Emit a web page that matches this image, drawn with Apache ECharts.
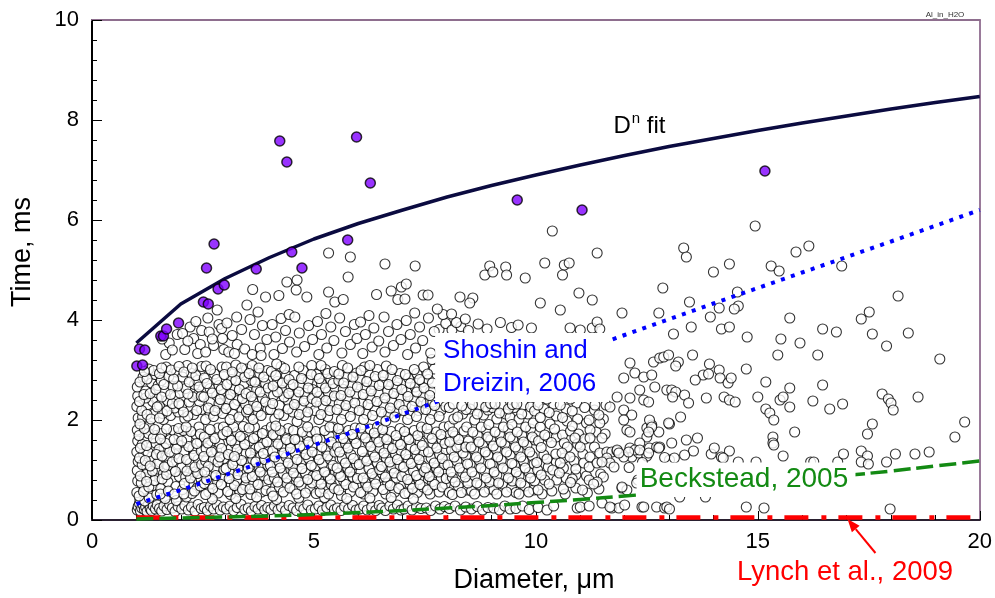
<!DOCTYPE html>
<html>
<head>
<meta charset="utf-8">
<script src="https://cdn.jsdelivr.net/npm/echarts/dist/echarts.min.js"></script>
<style>html,body{margin:0;padding:0;background:#fff}#c{width:995px;height:598px}</style>
</head>
<body>
<div id="c"></div>
<script>
// ---------- DATA ----------
const xTicks = [0, 5, 10, 15, 20];
const yTicks = [0, 2, 4, 6, 8, 10];

// D^n fit curve
const fitX = [1, 2, 3, 4, 5, 6, 7, 8, 9, 10, 11, 12, 13, 14, 15, 16, 17, 18, 19, 20];
const fitY = [3.54, 4.32, 4.83, 5.25, 5.62, 5.93, 6.2, 6.46, 6.69, 6.9, 7.1, 7.29, 7.47, 7.63, 7.79, 7.94, 8.08, 8.22, 8.35, 8.47];

// Shoshin and Dreizin, 2006
const shoX = [1, 2, 4, 6, 8, 10, 12, 14, 16, 18, 20];
const shoY = [0.32, 0.6, 1.2, 1.8, 2.44, 3.06, 3.7, 4.33, 4.95, 5.57, 6.2];

// Beckstead, 2005
const beckX = [1, 2, 3, 4, 5, 6, 7, 8, 9, 10, 11, 12, 13, 14, 15, 16, 17, 18, 19, 20];
const beckY = [0.02, 0.04, 0.06, 0.08, 0.11, 0.15, 0.19, 0.24, 0.29, 0.35, 0.41, 0.48, 0.55, 0.63, 0.71, 0.8, 0.89, 0.98, 1.08, 1.18];

// Lynch et al., 2009
const lynX = [1, 20];
const lynY = [0.05, 0.05];

// highlighted (filled) points, flat x,y
const filledPts = [1.07,3.42, 1.19,3.4, 1.01,3.08, 1.14,3.1, 1.55,3.68, 1.61,3.68, 1.68,3.82, 1.95,3.94, 2.51,4.36, 2.62,4.32,
  2.84,4.62, 2.98,4.7, 2.58,5.04, 3.7,5.02, 4.73,5.04, 4.5,5.36, 2.75,5.52, 4.23,7.58, 4.39,7.16, 5.96,7.66, 6.27,6.74,
  5.76,5.6, 9.58,6.4, 11.04,6.2, 15.16,6.98];

// open points, flat x,y, grouped by diameter range
const openA = [1.02,0.2, 1.04,0.27, 1.07,0.33, 1.09,0.18, 1.12,0.24, 1.15,0.3, 1.18,0.21, 1.21,0.26, 1.24,0.17, 1.27,0.32, 1.31,0.23, 1.34,0.19, 1.38,0.28, 1.43,0.22, 1.47,0.3, 1.08,0.41, 1.19,0.38, 1.29,0.44,
  1.01,0.55, 1.03,0.78, 1.02,0.99, 1.04,1.17, 1.01,1.36, 1.03,1.58, 1.02,1.8, 1.04,2.04, 1.01,2.27, 1.03,2.48, 1.02,2.66,
  1.18,0.62, 1.31,0.83, 1.24,1.04, 1.39,1.21, 1.33,1.46, 1.19,1.62, 1.44,1.69, 1.29,1.88, 1.14,2.06, 1.41,2.13, 1.26,2.31, 1.46,2.44, 1.21,2.58, 1.34,2.74, 1.42,2.91, 1.28,3.02, 1.46,0.51, 1.37,0.69, 1.22,0.91, 1.48,1.02, 1.16,1.33, 1.34,1.26, 1.43,1.54, 1.27,1.73, 1.12,2.19, 1.37,2.37, 1.49,2.69, 1.15,2.86, 1.11,0.74, 1.13,1.11, 1.26,1.36, 1.13,1.51, 1.21,2.44,
  1.52,0.23, 1.57,0.18, 1.62,0.28, 1.69,0.21, 1.75,0.31, 1.81,0.24, 1.87,0.17, 1.94,0.27, 1.65,0.43, 1.9,0.39,
  1.55,0.63, 1.71,0.76, 1.89,0.67, 1.61,0.93, 1.79,1.01, 1.97,0.87, 1.53,1.16, 1.69,1.23, 1.86,1.31, 1.63,1.44, 1.93,1.52, 1.76,1.61, 1.57,1.73, 1.84,1.79, 1.71,1.09, 1.96,1.68, 1.51,1.41,
  1.61,2.01, 1.77,2.09, 1.94,2.16, 1.52,2.29, 1.7,2.39, 1.87,2.46, 1.64,2.57, 1.82,2.67, 1.98,2.54, 1.56,2.79, 1.73,2.87, 1.91,2.96, 1.67,3.06, 1.86,2.24, 1.59,2.13,
  1.74,3.54, 1.92,3.71, 1.66,3.31, 1.81,3.4, 1.58,3.62,
  2.02,0.22, 2.09,0.29, 2.17,0.2, 2.24,0.26, 2.32,0.18, 2.39,0.31, 2.46,0.23, 2.13,0.46,
  2.04,0.61, 2.19,0.73, 2.37,0.64, 2.11,0.86, 2.29,0.96, 2.46,0.81, 2.03,1.06, 2.21,1.13, 2.39,1.21, 2.07,1.36, 2.27,1.43, 2.44,1.56, 2.14,1.63, 2.34,1.71, 2.06,1.79, 2.41,1.86, 2.25,0.53,
  2.09,2.03, 2.29,2.11, 2.47,2.21, 2.02,2.29, 2.19,2.36, 2.39,2.51, 2.11,2.63, 2.31,2.71, 2.04,2.86, 2.24,2.93, 2.44,2.99, 2.14,3.09, 2.37,2.79, 2.42,2.37,
  2.09,3.41, 2.29,3.63, 2.21,3.86, 2.44,3.51, 2.34,3.97, 2.04,3.73, 2.47,3.79, 2.16,3.58, 2.38,3.33, 2.82,4.2, 3.49,4.3];

const openB = [2.53,0.25, 2.6,0.19, 2.67,0.28, 2.74,0.22, 2.82,0.3, 2.89,0.2, 2.96,0.26, 2.71,0.42,
  2.56,0.51, 2.72,0.63, 2.91,0.71, 2.58,0.81, 2.79,0.89, 2.97,1.01, 2.62,1.07, 2.84,1.16, 2.52,1.27, 2.69,1.36, 2.92,1.43, 2.61,1.54, 2.77,1.63, 2.95,1.71, 2.66,1.81, 2.88,1.26, 2.54,0.96,
  2.56,2.01, 2.74,2.07, 2.94,2.13, 2.62,2.24, 2.86,2.33, 2.52,2.46, 2.71,2.54, 2.91,2.61, 2.59,2.73, 2.81,2.81, 2.98,2.91, 2.67,3.01, 2.89,2.41, 2.77,2.19,
  2.56,3.36, 2.74,3.49, 2.94,3.63, 2.64,3.76, 2.86,3.91, 2.61,4.04, 2.97,3.41, 2.71,3.62, 2.92,3.83,
  3.03,0.22, 3.11,0.28, 3.19,0.19, 3.27,0.25, 3.36,0.31, 3.44,0.21, 3.24,0.43,
  3.06,0.57, 3.21,0.69, 3.39,0.61, 3.09,0.83, 3.29,0.91, 3.47,0.84, 3.02,1.03, 3.17,1.11, 3.37,1.19, 3.07,1.31, 3.27,1.41, 3.44,1.51, 3.14,1.59, 3.34,1.67, 3.04,1.77, 3.41,1.87, 3.21,1.27,
  3.11,2.01, 3.31,2.06, 3.48,2.16, 3.02,2.23, 3.21,2.31, 3.39,2.43, 3.12,2.51, 3.32,2.61, 3.04,2.71, 3.24,2.79, 3.44,2.86, 3.16,2.96, 3.37,3.04, 3.47,2.53,
  3.08,3.36, 3.27,3.51, 3.44,3.42, 3.16,3.69, 3.37,3.81, 3.04,3.94, 3.26,4.06, 3.21,3.33,
  3.52,0.24, 3.59,0.18, 3.67,0.27, 3.74,0.22, 3.82,0.29, 3.89,0.2, 3.96,0.25, 3.71,0.46,
  3.56,0.62, 3.74,0.71, 3.92,0.59, 3.61,0.87, 3.79,0.96, 3.98,0.81, 3.52,1.04, 3.69,1.16, 3.89,1.21, 3.57,1.34, 3.77,1.46, 3.94,1.56, 3.64,1.63, 3.84,1.73, 3.54,1.84, 3.86,1.33,
  3.63,2.01, 3.81,2.09, 3.52,2.21, 3.71,2.27, 3.91,2.36, 3.59,2.47, 3.79,2.56, 3.97,2.64, 3.67,2.76, 3.87,2.86, 3.54,2.93, 3.76,3.04,
  3.61,3.31, 3.79,3.44, 3.94,3.61, 3.66,3.71, 3.84,3.89, 3.56,4.01, 3.74,4.16, 3.91,4.46, 3.62,4.61, 3.81,3.29];

const openC = [4.03,0.21, 4.11,0.28, 4.19,0.2, 4.27,0.26, 4.36,0.19, 4.44,0.29, 4.16,0.41,
  4.05,0.56, 4.22,0.66, 4.39,0.73, 4.11,0.84, 4.31,0.93, 4.48,1.01, 4.02,1.09, 4.21,1.17, 4.37,1.26, 4.07,1.38, 4.27,1.47, 4.46,1.54, 4.14,1.66, 4.34,1.74, 4.04,1.86, 4.42,1.83,
  4.12,2.02, 4.32,2.09, 4.02,2.21, 4.22,2.29, 4.42,2.39, 4.09,2.49, 4.29,2.59, 4.48,2.67, 4.18,2.77, 4.38,2.89, 4.04,2.97, 4.26,3.07,
  4.1,3.31, 4.29,3.43, 4.45,3.56, 4.14,3.66, 4.36,3.79, 4.06,3.91, 4.26,4.03, 4.44,4.11, 4.21,4.49, 4.39,4.76,
  4.53,0.24, 4.61,0.19, 4.69,0.28, 4.77,0.22, 4.86,0.3, 4.94,0.2, 4.66,0.44,
  4.56,0.61, 4.72,0.69, 4.91,0.63, 4.6,0.86, 4.81,0.94, 4.98,0.88, 4.52,1.07, 4.71,1.16, 4.88,1.23, 4.58,1.34, 4.77,1.43, 4.96,1.49, 4.64,1.61, 4.84,1.69, 4.54,1.79, 4.92,1.76,
  4.62,1.97, 4.82,2.06, 4.52,2.16, 4.72,2.24, 4.93,2.31, 4.6,2.44, 4.8,2.53, 4.97,2.61, 4.68,2.69, 4.87,2.79, 4.56,2.89, 4.76,2.99, 4.95,3.09,
  4.61,3.36, 4.79,3.47, 4.97,3.61, 4.67,3.74, 4.88,3.89, 4.57,4.06, 4.6,4.6, 4.62,4.8, 4.84,4.46,
  5.03,0.22, 5.11,0.28, 5.19,0.19, 5.29,0.25, 5.38,0.3, 5.46,0.21, 5.24,0.45,
  5.05,0.53, 5.22,0.63, 5.39,0.71, 5.11,0.81, 5.31,0.89, 5.48,0.97, 5.02,1.06, 5.19,1.13, 5.37,1.21, 5.07,1.31, 5.28,1.41, 5.44,1.49, 5.14,1.61, 5.34,1.69, 5.04,1.77, 5.42,1.86,
  5.11,2.01, 5.31,2.07, 5.02,2.19, 5.21,2.27, 5.41,2.36, 5.12,2.47, 5.32,2.56, 5.48,2.64, 5.17,2.73, 5.38,2.81, 5.06,2.91, 5.26,3.01,
  5.11,3.31, 5.29,3.44, 5.45,3.59, 5.17,3.71, 5.38,3.86, 5.08,3.97, 5.27,4.13, 5.33,4.56, 5.33,5.34, 5.47,4.36];

const openD = [5.53,0.24, 5.61,0.19, 5.69,0.27, 5.78,0.22, 5.87,0.29, 5.95,0.2, 5.74,0.43,
  5.56,0.6, 5.72,0.71, 5.89,0.66, 5.6,0.87, 5.81,0.96, 5.98,0.83, 5.52,1.04, 5.71,1.14, 5.89,1.23, 5.58,1.36, 5.77,1.44, 5.95,1.53, 5.66,1.63, 5.86,1.71, 5.55,1.83,
  5.62,2.01, 5.82,2.07, 5.52,2.21, 5.72,2.29, 5.92,2.34, 5.61,2.49, 5.81,2.56, 5.98,2.66, 5.67,2.74, 5.88,2.86, 5.56,2.92, 5.76,3.04,
  5.63,3.34, 5.82,3.51, 5.97,3.63, 5.71,3.77, 5.91,3.91, 5.58,4.04, 5.82,5.26, 5.77,4.86, 5.66,4.41,
  6.03,0.22, 6.12,0.28, 6.2,0.2, 6.3,0.26, 6.39,0.19, 6.47,0.29, 6.26,0.44,
  6.05,0.55, 6.21,0.66, 6.39,0.72, 6.11,0.84, 6.31,0.93, 6.48,1.01, 6.02,1.11, 6.19,1.18, 6.37,1.26, 6.09,1.37, 6.28,1.47, 6.46,1.56, 6.16,1.64, 6.36,1.74, 6.06,1.84,
  6.12,2.01, 6.32,2.09, 6.02,2.19, 6.22,2.31, 6.42,2.37, 6.11,2.51, 6.29,2.58, 6.47,2.69, 6.19,2.77, 6.38,2.87, 6.06,2.99, 6.26,3.09,
  6.1,3.33, 6.31,3.46, 6.46,3.58, 6.16,3.71, 6.35,3.84, 6.05,3.96, 6.24,4.09, 6.41,4.51,
  6.53,0.24, 6.61,0.19, 6.71,0.28, 6.79,0.22, 6.88,0.3, 6.96,0.2, 6.74,0.45,
  6.56,0.61, 6.72,0.69, 6.91,0.63, 6.61,0.86, 6.81,0.94, 6.98,0.87, 6.52,1.07, 6.71,1.16, 6.88,1.21, 6.58,1.34, 6.77,1.43, 6.95,1.51, 6.64,1.61, 6.85,1.69, 6.55,1.81,
  6.62,1.98, 6.82,2.06, 6.52,2.16, 6.72,2.24, 6.92,2.31, 6.6,2.44, 6.8,2.53, 6.98,2.61, 6.68,2.71, 6.88,2.79, 6.56,2.89, 6.76,3.01,
  6.6,3.36, 6.79,3.49, 6.96,3.61, 6.68,3.77, 6.87,3.91, 6.58,4.06, 6.74,4.58, 6.6,5.12, 6.89,4.41];

const openE = [7.03,0.22, 7.12,0.28, 7.21,0.2, 7.31,0.26, 7.41,0.23, 7.24,0.42,
  7.05,0.53, 7.22,0.63, 7.39,0.71, 7.11,0.81, 7.31,0.89, 7.48,0.97, 7.02,1.06, 7.19,1.13, 7.37,1.21, 7.07,1.31, 7.28,1.41, 7.44,1.49, 7.14,1.61, 7.34,1.69, 7.04,1.77, 7.42,1.86,
  7.11,2.01, 7.31,2.07, 7.02,2.19, 7.21,2.27, 7.41,2.36, 7.12,2.47, 7.32,2.56, 7.48,2.64, 7.17,2.73, 7.38,2.81, 7.06,2.91, 7.26,3.01,
  7.11,3.31, 7.29,3.44, 7.45,3.59, 7.17,3.71, 7.38,3.86, 7.08,3.99, 7.27,4.14, 6.97,4.66, 7.08,4.72, 7.46,4.5, 7.28,5.08, 7.05,4.42,
  7.53,0.24, 7.63,0.19, 7.74,0.28, 7.84,0.22, 7.94,0.27,
  7.56,0.6, 7.72,0.71, 7.89,0.66, 7.6,0.87, 7.81,0.96, 7.98,0.83, 7.52,1.04, 7.71,1.14, 7.89,1.23, 7.58,1.36, 7.77,1.44, 7.95,1.53, 7.66,1.63, 7.86,1.71, 7.55,1.83,
  7.62,2.01, 7.82,2.07, 7.52,2.21, 7.72,2.29, 7.61,2.49, 7.67,2.74, 7.56,2.92,
  7.63,3.34, 7.82,3.81, 7.97,3.93, 7.71,3.77, 7.91,4.11, 7.58,4.04, 7.57,4.5, 7.78,4.22,
  8.05,0.23, 8.18,0.28, 8.3,0.2, 8.42,0.26,
  8.05,0.55, 8.25,0.68, 8.45,0.6, 8.12,0.85, 8.35,0.95, 8.02,1.1, 8.22,1.18, 8.42,1.28, 8.1,1.4, 8.3,1.5, 8.48,1.58, 8.18,1.68, 8.38,1.78, 8.05,1.88,
  8.15,2.02, 8.35,2.12, 8.05,2.25,
  8.11,3.8, 8.31,3.87, 8.48,3.79, 8.21,3.95, 8.41,4.02, 8.29,4.46, 8.1,4.12];

const openF = [8.55,0.22, 8.68,0.27, 8.8,0.2, 8.92,0.25,
  8.55,0.58, 8.75,0.7, 8.95,0.62, 8.62,0.88, 8.85,0.98, 8.52,1.12, 8.72,1.2, 8.92,1.3, 8.6,1.42, 8.8,1.52, 8.98,1.6, 8.68,1.7, 8.88,1.8,
  8.62,2.0, 8.82,2.1, 8.52,2.22, 8.72,2.3, 8.92,2.2,
  8.7,3.92, 8.58,4.44, 8.51,4.34, 8.85,4.9, 8.96,5.08, 8.9,3.82,
  9.05,0.24, 9.18,0.2, 9.3,0.28, 9.42,0.22,
  9.05,0.6, 9.25,0.72, 9.45,0.65, 9.12,0.9, 9.35,1.0, 9.02,1.12, 9.22,1.2, 9.42,1.3, 9.1,1.42, 9.3,1.52, 9.48,1.62, 9.18,1.72, 9.38,1.82,
  9.12,2.02, 9.32,2.12, 9.02,2.25, 9.22,2.3, 9.42,2.05,
  9.2,3.95, 9.03,4.96, 9.32,5.06, 9.34,4.9, 9.45,3.85,
  9.55,0.23, 9.7,0.28, 9.85,0.21,
  9.55,0.55, 9.75,0.68, 9.95,0.6, 9.62,0.88, 9.85,0.95, 9.52,1.1, 9.72,1.18, 9.92,1.28, 9.6,1.4, 9.8,1.5, 9.98,1.6, 9.68,1.7, 9.88,1.82,
  9.62,2.02, 9.82,2.12, 9.52,2.25, 9.72,2.3,
  9.9,3.84, 9.76,4.84, 9.6,3.9];

const openG = [10.05,0.25, 10.25,0.2, 10.4,0.28, 10.93,0.24, 11.0,0.26, 11.2,0.28, 11.49,0.34, 11.71,0.24, 11.87,0.24, 12.0,0.3, 12.39,0.26, 12.43,0.26, 12.72,0.26, 12.9,0.24, 11.67,0.26, 12.95,0.26,
  10.05,0.6, 10.3,0.72, 10.12,0.9, 10.38,1.0, 10.02,1.15, 10.25,1.22, 10.45,1.32, 10.12,1.45, 10.35,1.55, 10.2,1.7, 10.42,1.82,
  10.1,2.05, 10.3,2.15, 10.05,2.3, 10.25,2.42, 10.45,2.52,
  10.2,5.14, 10.1,4.34, 10.37,5.78, 10.64,5.1, 10.75,5.14, 10.6,4.9, 10.97,4.54, 10.55,4.2, 10.77,3.84, 11.0,3.8, 11.27,3.84, 11.38,3.96, 11.44,3.82, 11.38,5.34, 11.27,4.4, 11.94,4.14, 12.86,4.64, 12.77,4.14,
  10.82,1.88, 11.22,1.8, 11.44,1.94, 11.22,1.64, 11.49,1.64, 10.64,1.54, 10.71,1.46, 10.88,1.64, 11.0,1.46, 10.59,1.34, 10.77,1.26, 10.55,1.14, 11.08,1.14, 11.22,1.26, 11.44,1.34, 11.6,1.36, 11.71,1.36, 11.83,1.38, 11.6,1.24, 11.67,1.14, 11.76,1.06, 11.2,1.06, 11.38,1.14, 11.49,1.16, 10.53,0.94, 10.82,0.82, 11.2,0.8, 11.38,0.76, 11.94,0.64, 12.12,1.44, 12.16,1.26, 12.32,1.34, 12.5,1.28, 12.56,1.44, 12.72,1.46, 12.05,1.8, 12.5,1.84, 12.61,1.9, 12.77,1.76, 12.5,1.66,
  12.12,3.14, 12.23,2.94, 11.98,2.84, 12.43,2.86, 12.65,3.16, 12.79,3.24, 12.88,3.26, 12.99,3.3, 12.61,2.9, 12.68,2.66, 12.34,2.6, 12.12,2.44, 11.83,2.46, 12.43,2.4, 12.54,2.36, 12.95,2.6, 11.98,2.2, 12.16,2.1, 11.67,2.26, 11.33,2.3, 11.98,2.0, 12.56,2.0, 12.61,1.86, 12.54,1.76, 12.12,1.76, 12.79,1.46, 12.34,1.54, 12.23,1.4, 11.83,1.4, 11.98,1.26,
  10.6,2.05, 10.82,2.18, 10.55,2.3, 10.78,2.42, 11.1,2.25, 11.2,2.0, 11.42,2.1,
  10.62,0.62, 10.78,0.75, 11.05,0.6, 11.3,0.72, 10.9,1.02, 11.87,1.34, 12.09,1.36, 12.34,1.4, 12.54,1.34, 12.77,1.44, 13.01,1.2, 13.12,1.24,
  12.3,0.8, 12.55,0.7, 12.8,0.85, 12.1,1.05, 12.4,1.15, 12.9,1.25, 12.05,0.6, 11.94,0.66, 12.27,0.74, 12.77,0.7];

const openH = [14.94,5.88, 13.33,5.44, 13.39,5.26, 14.0,4.96, 14.36,5.12, 15.3,5.08, 15.48,4.98, 15.86,5.36, 16.15,5.48, 16.89,5.08, 14.54,4.56, 14.56,4.28, 14.47,4.22, 13.46,4.36, 14.13,4.24, 13.93,4.06, 14.18,3.82, 14.36,3.86, 13.5,3.86, 13.1,3.72, 14.76,3.66, 15.72,4.04, 15.52,3.62, 15.95,3.54, 15.45,3.3, 16.35,3.3, 16.46,3.82, 16.77,3.76, 17.33,4.02, 17.51,4.16, 17.58,3.72, 17.9,3.48, 18.16,4.48, 18.39,3.74, 19.1,3.22,
  13.53,3.3, 13.21,3.16, 13.15,3.08, 13.91,3.12, 14.13,3.0, 14.15,2.84, 14.33,2.74, 14.4,2.84, 13.77,2.9, 13.89,2.92, 13.59,2.8, 14.74,3.02, 15.18,2.76, 13.06,2.6, 13.15,2.56, 13.35,2.5, 13.44,2.34, 13.08,2.46, 13.84,2.44, 14.24,2.46, 14.36,2.4, 14.49,2.36, 15.0,2.46, 15.18,2.22, 15.27,2.14, 15.36,2.0, 15.5,2.4, 15.57,2.46, 15.72,2.64, 15.72,2.26, 16.24,2.38, 16.46,2.7, 16.62,2.22, 16.91,2.32, 17.8,2.52, 17.94,2.42, 18.0,2.34, 18.05,2.2, 18.61,2.46,
  17.58,1.92, 17.47,1.72, 15.83,1.76, 15.34,1.66, 15.34,1.54, 15.36,1.5, 15.57,1.28, 14.96,1.16, 14.56,1.16, 16.19,1.16, 16.26,1.16, 16.8,1.16, 16.93,1.32, 17.33,1.38, 17.47,1.28, 17.33,1.16, 17.49,1.12, 17.9,1.16, 18.1,1.32, 18.54,1.32, 18.86,1.36, 19.44,1.66, 19.66,1.96,
  13.26,2.06, 13.01,1.92, 13.06,1.54, 13.39,1.6, 13.64,1.64, 13.55,1.38, 13.35,1.3, 13.95,1.32, 14.02,1.44, 14.18,1.26, 14.36,1.38, 14.22,1.24, 13.24,0.46, 13.82,0.46, 13.01,0.22, 14.74,0.26, 15.14,0.24, 17.98,0.22, 12.99,1.94];

// additional open points filling the dense band (read between the ones above)
const openI = [1.06,0.48, 1.16,0.57, 1.28,0.66, 1.41,0.79, 1.09,0.88, 1.23,0.77, 1.36,0.98, 1.47,1.13, 1.07,1.24, 1.2,1.19, 1.31,1.08, 1.45,1.31, 1.09,1.44, 1.23,1.49, 1.38,1.64, 1.06,1.69, 1.18,1.83, 1.41,1.81, 1.08,1.92, 1.24,2.11, 1.33,2.02, 1.47,2.26, 1.07,2.37, 1.17,2.51, 1.31,2.53, 1.44,2.61, 1.08,2.76, 1.24,2.82, 1.39,2.99, 1.18,2.97,
  1.54,0.52, 1.72,0.58, 1.86,0.52, 1.58,0.82, 1.68,0.91, 1.88,0.97, 1.63,1.06, 1.81,1.16, 1.96,1.23, 1.58,1.28, 1.75,1.36, 1.9,1.42, 1.67,1.53, 1.85,1.61, 1.54,1.62, 1.68,1.82, 1.95,1.83, 1.52,2.04, 1.69,2.18, 1.81,2.33, 1.96,2.33, 1.57,2.46, 1.77,2.51, 1.93,2.68, 1.62,2.71, 1.84,2.82, 1.52,2.93, 1.78,3.0, 1.96,3.07, 1.57,3.04,
  2.07,0.52, 2.31,0.58, 2.44,0.68, 2.08,0.73, 2.22,0.84, 2.38,0.93, 2.14,0.98, 2.32,1.06, 2.47,1.11, 2.13,1.21, 2.3,1.29, 2.46,1.38, 2.18,1.47, 2.36,1.53, 2.02,1.58, 2.23,1.77, 2.44,1.72, 2.12,1.86, 2.16,2.08, 2.36,2.19, 2.06,2.16, 2.27,2.46, 2.46,2.48, 2.16,2.52, 2.41,2.66, 2.19,2.76, 2.07,2.96, 2.34,2.89, 2.47,3.07, 2.26,3.04,
  2.63,0.56, 2.84,0.54, 2.66,0.72, 2.83,0.76, 2.53,0.73, 2.69,0.92, 2.91,0.86, 2.76,1.04, 2.56,1.18, 2.73,1.21, 2.97,1.23, 2.81,1.38, 2.57,1.43, 2.87,1.53, 2.69,1.58, 2.53,1.66, 2.84,1.84, 2.96,1.86, 2.66,2.12, 2.84,2.18, 2.97,2.29, 2.68,2.38, 2.81,2.49, 2.97,2.52, 2.66,2.63, 2.86,2.69, 2.53,2.84, 2.76,2.92, 2.93,3.06, 2.57,3.08,
  3.12,0.51, 3.33,0.56, 3.46,0.69, 3.14,0.71, 3.26,0.79, 3.41,0.96, 3.11,0.96, 3.29,1.04, 3.46,1.16, 3.24,1.19, 3.13,1.43, 3.36,1.31, 3.47,1.34, 3.22,1.53, 3.42,1.63, 3.09,1.68, 3.27,1.76, 3.19,1.86, 3.18,2.11, 3.38,2.2, 3.07,2.41, 3.29,2.39, 3.46,2.31, 3.22,2.62, 3.42,2.71, 3.14,2.81, 3.33,2.93, 3.03,3.06, 3.24,3.1, 3.48,3.02,
  3.58,0.51, 3.82,0.56, 3.92,0.71, 3.64,0.76, 3.71,0.89, 3.87,0.89, 3.56,0.94, 3.77,1.06, 3.96,1.09, 3.62,1.21, 3.8,1.27, 3.96,1.38, 3.69,1.44, 3.86,1.53, 3.55,1.58, 3.72,1.68, 3.92,1.79, 3.66,1.86, 3.57,2.08, 3.74,2.16, 3.96,2.21, 3.64,2.36, 3.84,2.43, 3.53,2.56, 3.71,2.61, 3.91,2.73, 3.59,2.79, 3.78,2.93, 3.95,2.99, 3.61,3.09];

const openJ = [4.08,0.48, 4.31,0.56, 4.46,0.64, 4.18,0.76, 4.39,0.84, 4.06,0.96, 4.24,1.04, 4.42,1.14, 4.12,1.26, 4.32,1.34, 4.47,1.43, 4.19,1.52, 4.38,1.61, 4.08,1.71, 4.24,1.79, 4.14,1.88, 4.21,2.12, 4.42,2.22, 4.07,2.33, 4.33,2.46, 4.18,2.56, 4.43,2.53, 4.08,2.68, 4.29,2.74, 4.44,2.81, 4.14,2.89, 4.34,3.03, 4.16,3.12,
  4.61,0.52, 4.81,0.54, 4.96,0.74, 4.66,0.76, 4.86,0.81, 4.54,0.94, 4.73,1.03, 4.94,1.09, 4.62,1.21, 4.82,1.31, 4.96,1.36, 4.69,1.48, 4.88,1.56, 4.57,1.61, 4.74,1.76, 4.86,1.86, 4.67,2.11, 4.86,2.16, 4.56,2.31, 4.78,2.38, 4.96,2.43, 4.66,2.56, 4.87,2.64, 4.53,2.71, 4.72,2.83, 4.94,2.91, 4.66,3.06,
  5.14,0.56, 5.33,0.52, 5.46,0.63, 5.16,0.72, 5.37,0.82, 5.06,0.89, 5.24,0.96, 5.43,1.09, 5.12,1.21, 5.31,1.28, 5.47,1.36, 5.18,1.46, 5.39,1.56, 5.07,1.62, 5.24,1.79, 5.36,1.86, 5.16,2.11, 5.36,2.19, 5.06,2.36, 5.27,2.39, 5.46,2.48, 5.07,2.56, 5.26,2.64, 5.43,2.73, 5.12,2.83, 5.31,2.93, 5.46,2.97, 5.16,3.09,
  5.62,0.49, 5.82,0.56, 5.96,0.71, 5.67,0.78, 5.88,0.86, 5.56,0.93, 5.76,1.04, 5.96,1.11, 5.64,1.23, 5.83,1.31, 5.53,1.46, 5.71,1.53, 5.91,1.63, 5.61,1.71, 5.78,1.79, 5.93,1.84, 5.68,2.13, 5.88,2.21, 5.57,2.33, 5.76,2.42, 5.94,2.52, 5.66,2.61, 5.86,2.69, 5.56,2.79, 5.74,2.86, 5.96,2.94, 5.64,3.09,
  6.12,0.52, 6.33,0.57, 6.46,0.84, 6.16,0.74, 6.37,0.82, 6.06,0.96, 6.24,1.03, 6.43,1.14, 6.14,1.24, 6.33,1.36, 6.48,1.44, 6.22,1.56, 6.41,1.63, 6.09,1.71, 6.26,1.82, 6.43,1.86, 6.18,2.12, 6.38,2.19, 6.08,2.34, 6.28,2.43, 6.46,2.53, 6.16,2.64, 6.34,2.71, 6.04,2.81, 6.24,2.94, 6.43,3.01, 6.14,3.06,
  6.62,0.52, 6.82,0.56, 6.96,0.71, 6.66,0.74, 6.86,0.84, 6.54,0.93, 6.76,1.04, 6.94,1.09, 6.63,1.24, 6.84,1.31, 6.96,1.39, 6.68,1.47, 6.89,1.56, 6.58,1.66, 6.74,1.77, 6.94,1.83, 6.68,2.11, 6.87,2.16, 6.57,2.31, 6.76,2.36, 6.96,2.46, 6.66,2.58, 6.86,2.66, 6.54,2.76, 6.73,2.86, 6.94,2.93, 6.63,3.08,
  7.14,0.53, 7.33,0.55, 7.46,0.66, 7.16,0.72, 7.36,0.81, 7.06,0.94, 7.24,0.98, 7.43,1.09, 7.13,1.21, 7.32,1.29, 7.47,1.37, 7.19,1.46, 7.39,1.56, 7.08,1.66, 7.26,1.79, 7.44,1.77, 7.16,2.12, 7.36,2.19, 7.07,2.31, 7.26,2.39, 7.46,2.46, 7.09,2.56, 7.28,2.66, 7.44,2.76, 7.13,2.84, 7.32,2.93, 7.47,3.06,
  7.62,0.52, 7.82,0.56, 7.96,0.72, 7.67,0.77, 7.87,0.84, 7.56,0.94, 7.76,1.04, 7.94,1.11, 7.64,1.24, 7.83,1.31, 7.97,1.41, 7.68,1.53, 7.88,1.61, 7.59,1.71, 7.76,1.76, 7.93,1.86, 7.66,2.13, 7.86,2.19, 7.97,2.27, 7.54,2.33, 7.68,2.36, 7.63,2.58, 7.58,2.81, 7.71,3.02, 7.66,3.21];

const openK = [8.12,0.51, 8.32,0.55, 8.47,0.74, 8.18,0.76, 8.41,0.86, 8.09,0.96, 8.28,1.04, 8.46,1.12, 8.16,1.26, 8.36,1.34, 8.22,1.46, 8.42,1.46, 8.06,1.56, 8.26,1.61, 8.13,1.76, 8.44,1.86, 8.24,2.06, 8.43,2.21, 8.14,2.32, 8.33,2.28,
  8.62,0.52, 8.84,0.56, 8.96,0.76, 8.67,0.74, 8.88,0.84, 8.56,0.96, 8.76,1.04, 8.97,1.12, 8.66,1.26, 8.86,1.36, 8.54,1.46, 8.72,1.56, 8.92,1.66, 8.58,1.76, 8.77,1.86, 8.94,1.91, 8.68,2.12, 8.87,2.26, 8.57,2.31, 8.98,2.33,
  9.12,0.52, 9.34,0.56, 9.47,0.78, 9.16,0.74, 9.38,0.84, 9.06,0.96, 9.26,1.04, 9.46,1.13, 9.14,1.26, 9.34,1.36, 9.04,1.48, 9.22,1.56, 9.42,1.66, 9.08,1.76, 9.27,1.86, 9.46,1.91, 9.18,2.14, 9.38,2.22, 9.08,2.32, 9.47,2.31,
  9.62,0.52, 9.84,0.56, 9.97,0.78, 9.66,0.74, 9.88,0.84, 9.56,0.96, 9.76,1.04, 9.96,1.12, 9.66,1.26, 9.86,1.36, 9.54,1.46, 9.72,1.56, 9.92,1.66, 9.58,1.76, 9.77,1.86, 9.94,1.94, 9.68,2.12, 9.88,2.26, 9.57,2.32, 9.97,2.18,
  10.14,0.52, 10.36,0.58, 10.47,0.8, 10.2,0.8, 10.04,1.0, 10.28,1.06, 10.46,1.16, 10.18,1.3, 10.06,1.58, 10.28,1.66, 10.46,1.66, 10.1,1.86, 10.32,1.92, 10.18,2.22, 10.4,2.32, 10.46,2.08,
  10.66,0.52, 10.9,0.64, 10.68,0.84, 10.9,0.9, 10.62,1.04, 10.86,1.18, 10.64,1.24, 10.94,1.52, 10.6,1.7, 10.78,1.78, 10.96,1.72, 10.7,1.98, 10.94,2.02, 10.68,2.22, 10.92,2.34,
  11.16,0.54, 11.42,0.62, 11.14,0.88, 11.46,0.92, 11.06,1.32, 11.32,1.46, 11.1,1.62, 11.36,1.76, 11.14,1.94, 11.32,2.2, 11.52,2.02, 11.56,1.72, 11.52,0.86, 11.58,2.3];

// ---------- BUILD ----------
const pairs = a => { const r = []; for (let i = 0; i < a.length; i += 2) r.push([a[i], a[i + 1]]); return r; };
const zip = (xs, ys) => xs.map((x, i) => [x, ys[i]]);
const openAll = [].concat(pairs(openA), pairs(openI), pairs(openB), pairs(openC), pairs(openJ), pairs(openD), pairs(openE),
  pairs(openF), pairs(openK), pairs(openG), pairs(openH));

const FONT = "'Liberation Sans', Arial, Helvetica, sans-serif";
const chart = echarts.init(document.getElementById('c'), null, { renderer: 'canvas' });

const option = {
  animation: false,
  backgroundColor: '#fff',
  grid: { left: 92, right: 10, top: 20, bottom: 78 },
  xAxis: [{
    type: 'value', min: xTicks[0], max: xTicks[xTicks.length - 1], interval: 5,
    axisLine: { onZero: false, lineStyle: { color: '#2a2030', width: 2 } },
    axisTick: { inside: true, length: 9, lineStyle: { color: '#000', width: 1 } },
    minorTick: { show: true, splitNumber: 5, length: 5, lineStyle: { color: '#000', width: 1 } },
    splitLine: { show: false },
    axisLabel: { fontSize: 22, color: '#000', margin: 11, fontFamily: FONT }
  }, {
    type: 'value', position: 'top', min: 0, max: 20,
    axisLine: { show: true, onZero: false, lineStyle: { color: '#8e6e8e', width: 2 } },
    axisTick: { show: false }, axisLabel: { show: false }, splitLine: { show: false }
  }],
  yAxis: [{
    type: 'value', min: yTicks[0], max: yTicks[yTicks.length - 1], interval: 2,
    axisLine: { onZero: false, lineStyle: { color: '#000', width: 2 } },
    axisTick: { inside: true, length: 10, lineStyle: { color: '#000', width: 1 } },
    minorTick: { show: true, splitNumber: 5, length: 5, lineStyle: { color: '#000', width: 1 } },
    splitLine: { show: false },
    axisLabel: { fontSize: 22, color: '#000', margin: 13, fontFamily: FONT }
  }, {
    type: 'value', position: 'right', min: 0, max: 10,
    axisLine: { show: true, onZero: false, lineStyle: { color: '#9a7a9a', width: 2 } },
    axisTick: { show: false }, axisLabel: { show: false }, splitLine: { show: false }
  }],
  series: [
    { type: 'scatter', silent: true, data: openAll, symbol: 'circle', symbolSize: 10,
      itemStyle: { color: '#fff', borderColor: '#000', borderWidth: 1.1 }, z: 2 },
    { type: 'line', silent: true, data: zip(lynX, lynY), showSymbol: false, symbol: 'none',
      lineStyle: { color: '#ff0000', width: 4.5, type: [24, 13, 5, 12] }, z: 3 },
    { type: 'line', silent: true, data: zip(beckX, beckY), showSymbol: false, symbol: 'none', smooth: true,
      lineStyle: { color: '#138a13', width: 3.5, type: [17, 6] }, z: 3 },
    { type: 'line', silent: true, data: zip(shoX, shoY), showSymbol: false, symbol: 'none',
      lineStyle: { color: '#0000ff', width: 4, type: [4, 6.5] }, z: 3 },
    { type: 'line', silent: true, data: zip(fitX, fitY), showSymbol: false, symbol: 'none',
      lineStyle: { color: '#0b0b40', width: 3.5 }, z: 3 },
    { type: 'scatter', silent: true, data: pairs(filledPts), symbol: 'circle', symbolSize: 10,
      itemStyle: { color: '#7f00ff', borderColor: '#000', borderWidth: 1.5 }, z: 4 }
  ]
};
chart.setOption(option);

// ---------- ANNOTATIONS ----------
const P = (x, y) => chart.convertToPixel({ gridIndex: 0 }, [x, y]);
const s1 = P(7.73, 3.74), s2 = P(11.65, 2.36);
const b1 = P(12.27, 1.15), b2 = P(17.2, 0.46);
const arrTail = P(17.65, -0.66), arrHead = P(17.02, 0.02);
const dx = arrHead[0] - arrTail[0], dy = arrHead[1] - arrTail[1];
const L = Math.sqrt(dx * dx + dy * dy), ux = dx / L, uy = dy / L;
const hl = 13, hw = 5;
const base = [arrHead[0] - ux * hl, arrHead[1] - uy * hl];
const dn = P(11.68, 7.9);
const g = [
  { type: 'rect', z: 100, shape: { x: s1[0], y: s1[1], width: s2[0] - s1[0], height: s2[1] - s1[1] }, style: { fill: '#fff' } },
  { type: 'text', z: 101, x: s1[0] + 8, y: s1[1] + 18, style: { text: 'Shoshin and', fill: '#0000ff', font: '26px ' + FONT, textVerticalAlign: 'middle', verticalAlign: 'middle' } },
  { type: 'text', z: 101, x: s1[0] + 8, y: s1[1] + 51, style: { text: 'Dreizin, 2006', fill: '#0000ff', font: '26px ' + FONT, textVerticalAlign: 'middle', verticalAlign: 'middle' } },
  { type: 'rect', z: 100, shape: { x: b1[0], y: b1[1], width: b2[0] - b1[0], height: b2[1] - b1[1] }, style: { fill: '#fff' } },
  { type: 'text', z: 101, x: b1[0] + 3, y: b1[1] + 17, style: { text: 'Beckstead, 2005', fill: '#138a13', font: '28px ' + FONT, textVerticalAlign: 'middle', verticalAlign: 'middle' } },
  { type: 'text', z: 101, x: 737, y: 572, style: { text: 'Lynch et al., 2009', fill: '#ff0000', font: '27.5px ' + FONT, textVerticalAlign: 'middle', verticalAlign: 'middle' } },
  { type: 'line', z: 101, shape: { x1: arrTail[0], y1: arrTail[1], x2: base[0], y2: base[1] }, style: { stroke: '#ff0000', lineWidth: 2 } },
  { type: 'polygon', z: 101, shape: { points: [arrHead, [base[0] + uy * hw, base[1] - ux * hw], [base[0] - uy * hw, base[1] + ux * hw]] }, style: { fill: '#ff0000' } },
  { type: 'text', z: 101, x: dn[0] + 3, y: dn[1], style: {
      text: '{a|D}{s|n}{a| fit}', verticalAlign: 'middle', textVerticalAlign: 'middle',
      rich: { a: { fontSize: 24, fontFamily: FONT, fill: '#000', color: '#000', verticalAlign: 'bottom' },
              s: { fontSize: 15, fontFamily: FONT, fill: '#000', color: '#000', verticalAlign: 'top', padding: [0, 0, 12, 1] } } } },
  { type: 'text', z: 101, x: 23, y: 252, rotation: Math.PI / 2, style: { text: 'Time, ms', fill: '#000', font: '27px ' + FONT, align: 'center', textAlign: 'center', verticalAlign: 'middle', textVerticalAlign: 'middle' } },
  { type: 'text', z: 101, x: 534, y: 581, style: { text: 'Diameter, \u03bcm', fill: '#000', font: '27px ' + FONT, align: 'center', textAlign: 'center', verticalAlign: 'middle', textVerticalAlign: 'middle' } },
  { type: 'text', z: 101, x: 945, y: 15, style: { text: 'Al_in_H2O', fill: '#333', font: '8px ' + FONT, align: 'center', textAlign: 'center', verticalAlign: 'middle', textVerticalAlign: 'middle' } }
];
chart.setOption({ graphic: g });
</script>
</body>
</html>
